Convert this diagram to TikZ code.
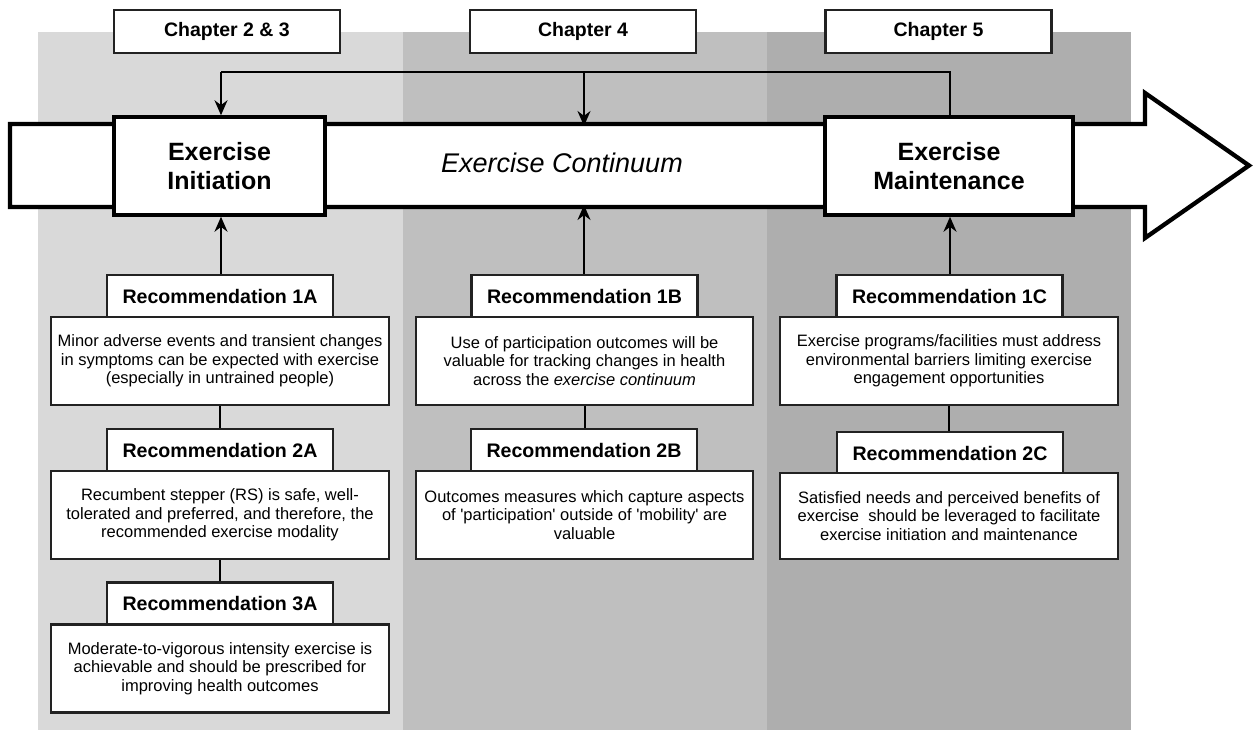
\documentclass[tikz,border=0pt]{standalone}
\usepackage{fontspec}
\setmainfont{Liberation Sans}
\usetikzlibrary{arrows.meta}
\definecolor{gA}{HTML}{D9D9D9}
\definecolor{gB}{HTML}{BFBFBF}
\definecolor{gC}{HTML}{AEAEAE}
\definecolor{edge}{HTML}{222222}
\tikzset{
  chapbox/.style={draw=edge, line width=2.5pt, fill=white, minimum width=226pt, minimum height=43pt, inner sep=0pt, font=\fontsize{19.5pt}{22pt}\selectfont\bfseries},
  stagebox/.style={draw=black, line width=3.5pt, fill=white, inner sep=0pt, align=center, font=\fontsize{25pt}{29pt}\selectfont\bfseries},
  rechead/.style={draw=edge, line width=2.5pt, fill=white, minimum width=226pt, minimum height=42pt, inner sep=0pt, font=\fontsize{19.6pt}{22pt}\selectfont\bfseries},
  recbody/.style={draw=edge, line width=2.5pt, fill=white, minimum width=338pt, minimum height=88pt, inner sep=0pt, align=center, font=\fontsize{16.5pt}{18.6pt}\selectfont},
  link/.style={draw=black, line width=2pt},
  linkarrow/.style={link, -{Stealth[length=15pt,width=13pt]}}
}
\begin{document}
\begin{tikzpicture}[x=1pt,y=-1pt]
\useasboundingbox (0,0) rectangle (1255,730);
% background panels
\fill[gA] (38,32) rectangle (403,730);
\fill[gB] (403,32) rectangle (767,730);
\fill[gC] (767,32) rectangle (1131,730);
% chapter labels
\node[chapbox] (ch1) at (227,31.5) {Chapter 2 \& 3};
\node[chapbox] (ch2) at (583,31.5) {Chapter 4};
\node[chapbox] (ch3) at (938.5,31.5) {Chapter 5};
% big arrow
\coordinate (btop) at (584,124);
\coordinate (bbot) at (584,207);
\draw[line width=4.3pt, fill=white, line join=miter]
  (10,124) -- (1145,124) -- (1145,93) -- (1249,165.5) -- (1145,238) -- (1145,207) -- (10,207) -- cycle;
\node[font=\fontsize{27pt}{31pt}\selectfont\itshape] (cont) at (562,163) {Exercise Continuum};
% stage boxes
\node[stagebox, minimum width=211pt, minimum height=98pt] (init) at (219.5,166) {Exercise\\Initiation};
\node[stagebox, minimum width=248pt, minimum height=98pt] (maint) at (949,166) {Exercise\\Maintenance};
% feedback lines
\coordinate (fbR) at (950,72);
\coordinate (fbL) at (221,72);
\coordinate (fbM) at (584,72);
\draw[link] (maint.north -| fbR) -- (fbR) -- (fbL);
\draw[linkarrow] (fbL) -- (init.north -| fbL);
\draw[linkarrow] (fbM) -- ([yshift=-2pt]btop);
% column A
\node[rechead] (h1a) at (220,296) {Recommendation 1A};
\node[recbody] (b1a) at (220,361) {Minor adverse events and transient changes\\in symptoms can be expected with exercise\\(especially in untrained people)};
\node[rechead] (h2a) at (220,450) {Recommendation 2A};
\node[recbody] (b2a) at (220,515) {Recumbent stepper (RS) is safe, well-\\tolerated and preferred, and therefore, the\\recommended exercise modality};
\node[rechead] (h3a) at (220,603.5) {Recommendation 3A};
\node[recbody] (b3a) at (220,668.5) {Moderate-to-vigorous intensity exercise is\\achievable and should be prescribed for\\improving health outcomes};
% column B
\node[rechead] (h1b) at (584.5,296) {Recommendation 1B};
\node[recbody, minimum width=337pt] (b1b) at (584.5,361) {Use of participation outcomes will be\\valuable for tracking changes in health\\across the \textit{exercise continuum}};
\node[rechead] (h2b) at (584,450) {Recommendation 2B};
\node[recbody, minimum width=337pt] (b2b) at (584.5,515) {Outcomes measures which capture aspects\\of \textquotesingle participation\textquotesingle\ outside of \textquotesingle mobility\textquotesingle\ are\\valuable};
% column C
\node[rechead] (h1c) at (949.5,296) {Recommendation 1C};
\node[recbody] (b1c) at (949,361) {Exercise programs/facilities must address\\environmental barriers limiting exercise\\engagement opportunities};
\node[rechead] (h2c) at (950,453) {Recommendation 2C};
\node[recbody, minimum height=86pt] (b2c) at (949,516) {Satisfied needs and perceived benefits of\\exercise\ \ should be leveraged to facilitate\\exercise initiation and maintenance};
% connectors
\draw[linkarrow] (h1a.north -| fbL) -- (init.south -| fbL);
\draw[linkarrow] (h1b.north -| btop) -- ([yshift=2pt]bbot);
\draw[linkarrow] (h1c.north -| fbR) -- (maint.south -| fbR);
\draw[link] (b1a.south) -- (h2a.north);
\draw[link] (b2a.south) -- (h3a.north);
\draw[link] (b1b.south) -- (h2b.north -| b1b.south);
\draw[link] (b1c.south) -- (h2c.north -| b1c.south);
\end{tikzpicture}
\end{document}
